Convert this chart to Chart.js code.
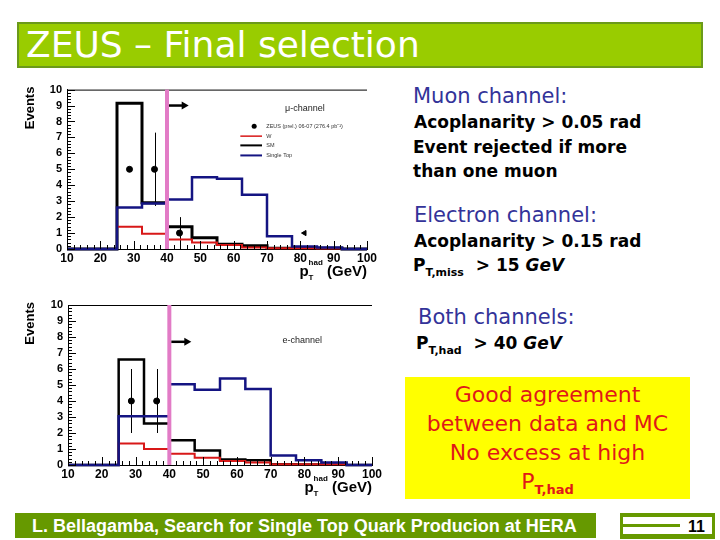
<!DOCTYPE html>
<html>
<head>
<meta charset="utf-8">
<script src="https://cdn.jsdelivr.net/npm/chart.js@4.4.1/dist/chart.umd.min.js"></script>
<style>
  html, body { margin: 0; padding: 0; background: #fff; }
  body { width: 720px; height: 540px; position: relative; overflow: hidden; font-family: 'Comic Sans MS', 'DejaVu Sans', sans-serif; }
  .abs { position: absolute; white-space: nowrap; line-height: 1; }
  canvas { position: absolute; }
  #titleBar { left: 17px; top: 22px; width: 682px; height: 42px; background: #99cc00; border: 2px solid #6b9a1a; }
  #titleText { left: 26px; top: 27px; font-size: 36px; color: #fff; }
  .head { color: #333399; font-size: 21px; }
  .body { color: #000; font-size: 17px; font-weight: bold; }
  .sub { font-size: 11px; position: relative; top: 5px; }
  #yellowBox { left: 405px; top: 377px; width: 285px; height: 122px; background: #ffff00; }
  .concl { color: #e01818; font-size: 22px; width: 285px; left: 405px; text-align: center; }
  #footer { left: 15px; top: 513px; width: 581px; height: 25px; background: #669900; }
  #footerText { left: 32px; top: 516px; font: bold 18px 'Liberation Sans', Arial, sans-serif; color: #fff; }
  #pageBox { left: 620px; top: 513px; width: 95px; height: 26px; background: #669900; }
  #pageWhite { left: 623px; top: 517px; width: 89px; height: 17px; background: #fff; }
  #pageLine { left: 623px; top: 524px; width: 57px; height: 3px; background: #669900; }
  #pageNum { left: 688px; top: 518px; font: bold 16px 'Liberation Sans', Arial, sans-serif; color: #000; }
</style>
</head>
<body>

<div id="titleBar" class="abs"></div>
<div id="titleText" class="abs">ZEUS – Final selection</div>

<canvas id="muChart" width="370" height="210" style="left:15px; top:78px;"></canvas>
<canvas id="eChart" width="370" height="215" style="left:15px; top:293px;"></canvas>

<div class="abs head" style="left:413px; top:86px;">Muon channel:</div>
<div class="abs body" style="left:414px; top:114px;">Acoplanarity &gt; 0.05 rad</div>
<div class="abs body" style="left:413px; top:139px;">Event rejected if more</div>
<div class="abs body" style="left:413px; top:163px;">than one muon</div>

<div class="abs head" style="left:414px; top:205px;">Electron channel:</div>
<div class="abs body" style="left:414px; top:233px;">Acoplanarity &gt; 0.15 rad</div>
<div class="abs body" style="left:413px; top:257px;">P<span class="sub">T,miss</span> &nbsp;&gt; 15 <i>GeV</i></div>

<div class="abs head" style="left:418px; top:307px;">Both channels:</div>
<div class="abs body" style="left:416px; top:335px;">P<span class="sub">T,had</span> &nbsp;&gt; 40 <i>GeV</i></div>

<div id="yellowBox" class="abs"></div>
<div class="abs concl" style="top:384px;">Good agreement</div>
<div class="abs concl" style="top:413px;">between data and MC</div>
<div class="abs concl" style="top:442px;">No excess at high</div>
<div class="abs concl" style="top:471px;">P<span class="sub" style="font-weight:bold; font-size:13px;">T,had</span></div>

<div id="footer" class="abs"></div>
<div id="footerText" class="abs">L. Bellagamba, Search for Single Top Quark Producion at HERA</div>
<div id="pageBox" class="abs"></div>
<div id="pageWhite" class="abs"></div>
<div id="pageLine" class="abs"></div>
<div id="pageNum" class="abs">11</div>

<script>
// bin edges of the pT(had) histograms (GeV)
const binEdges = [10, 17.5, 25, 32.5, 40, 47.5, 55, 62.5, 70, 77.5, 85, 92.5, 100];
const xTickValues = [10, 20, 30, 40, 50, 60, 70, 80, 90, 100];
const yTickValues = [0, 1, 2, 3, 4, 5, 6, 7, 8, 9, 10];

// muon channel
const muSM = [0, 0, 9.15, 2.9, 1.4, 0.7, 0.3, 0.2, 0.05, 0.05, 0.05, 0];
const muSingleTop = [0, 0, 2.6, 2.85, 3.1, 4.5, 4.4, 3.4, 0.8, 0.15, 0.1, 0];
const muW = [0, 0, 1.4, 0.95, 0.6, 0.4, 0.25, 0.1, 0.05, 0.05, 0.03, 0];
const muDataX = [28.75, 36.25, 43.75, 81.25];
const muDataY = [5, 5, 1, 1];
const muDataErr = [0, 2.3, 1, 0];

// electron channel
const eSM = [0, 0, 6.6, 2.6, 1.55, 0.9, 0.35, 0.3, 0.05, 0.03, 0.02, 0];
const eSingleTop = [0, 0, 3.05, 3.05, 5.05, 4.7, 5.4, 4.75, 0.6, 0.3, 0.15, 0];
const eW = [0, 0, 1.35, 1.0, 0.7, 0.45, 0.25, 0.15, 0.05, 0.05, 0.05, 0];
const eDataX = [28.75, 36.25];
const eDataY = [4, 4];
const eDataErr = [2, 2];

const legendLabels = ['ZEUS (prel.) 06-07 (276.4 pb\u207B\u00B9)', 'W', 'SM', 'Single Top'];
const cutValue = 40;

const colSM = '#000000';
const colTop = '#141482';
const colW = '#d81818';
const colCut = '#e27bc6';
const tickFont = '"Liberation Sans", Arial, sans-serif';

function histPoints(values) {
    const pts = values.map((v, i) => ({ x: binEdges[i], y: v }));
    pts.push({ x: binEdges[binEdges.length - 1], y: values[values.length - 1] });
    return pts;
}

function histDataset(values, color, width, order) {
    return {
        data: histPoints(values),
        borderColor: color,
        borderWidth: width,
        stepped: 'before',
        pointRadius: 0,
        fill: false,
        order: order,
        clip: 4
    };
}

function drawPtTitle(ctx, right, baseline) {
    const fBig = 'bold 15px ' + tickFont;
    const fSmall = 'bold 8px ' + tickFont;
    ctx.save();
    ctx.fillStyle = '#000';
    ctx.textAlign = 'left';
    ctx.textBaseline = 'alphabetic';
    ctx.font = fBig;
    const wp = ctx.measureText('p').width;
    const wg = ctx.measureText(' (GeV)').width;
    ctx.font = fSmall;
    const ws = ctx.measureText('had').width;
    let x = right - (wp + ws + wg);
    ctx.font = fBig;
    ctx.fillText('p', x, baseline);
    x += wp;
    ctx.font = fSmall;
    ctx.fillText('had', x, baseline - 11);
    ctx.fillText('T', x, baseline + 4);
    x += ws;
    ctx.font = fBig;
    ctx.fillText(' (GeV)', x, baseline);
    ctx.restore();
}

// ROOT-like frame: inner ticks, cut line, arrow, labels
const rootFrame = {
    id: 'rootFrame',
    beforeDatasetsDraw(chart, args, opts) {
        const { ctx, scales: { x, y } } = chart;
        // error bars
        ctx.save();
        ctx.strokeStyle = '#000';
        ctx.lineWidth = 1;
        opts.dataX.forEach((xv, i) => {
            const err = opts.dataErr[i];
            if (!err) return;
            const px = Math.round(x.getPixelForValue(xv)) + 0.5;
            ctx.beginPath();
            ctx.moveTo(px, y.getPixelForValue(opts.dataY[i] - err));
            ctx.lineTo(px, y.getPixelForValue(opts.dataY[i] + err));
            ctx.stroke();
        });
        ctx.restore();
    },
    afterDatasetsDraw(chart, args, opts) {
        const { ctx, chartArea: a, scales: { x, y } } = chart;
        ctx.save();
        ctx.strokeStyle = '#000';
        ctx.lineWidth = 1;

        // top frame line
        ctx.beginPath();
        ctx.moveTo(a.left, a.top + 0.5);
        ctx.lineTo(a.right, a.top + 0.5);
        ctx.stroke();

        // y ticks pointing inside
        ctx.beginPath();
        for (let v = 0; v <= 10.001; v += 0.2) {
            const py = Math.round(y.getPixelForValue(v)) + 0.5;
            const major = Math.abs(v - Math.round(v)) < 0.01;
            ctx.moveTo(a.left, py);
            ctx.lineTo(a.left + (major ? 8 : 4), py);
        }
        // x ticks pointing inside
        for (let v = 10; v <= 100.001; v += 2) {
            const px = Math.round(x.getPixelForValue(v)) + 0.5;
            const major = Math.abs(v % 10) < 0.01;
            ctx.moveTo(px, a.bottom);
            ctx.lineTo(px, a.bottom - (major ? 8 : 4));
        }
        ctx.stroke();

        // cut line
        const cx = x.getPixelForValue(cutValue);
        ctx.strokeStyle = colCut;
        ctx.lineWidth = 4;
        ctx.beginPath();
        ctx.moveTo(cx, y.getPixelForValue(0));
        ctx.lineTo(cx, y.getPixelForValue(10));
        ctx.stroke();

        // arrow
        const ay = y.getPixelForValue(opts.arrowY);
        const ax1 = x.getPixelForValue(cutValue + 0.6);
        const ax2 = x.getPixelForValue(cutValue + 6.5);
        ctx.strokeStyle = '#000';
        ctx.fillStyle = '#000';
        ctx.lineWidth = 2.5;
        ctx.beginPath();
        ctx.moveTo(ax1, ay);
        ctx.lineTo(ax2 - 4, ay);
        ctx.stroke();
        ctx.beginPath();
        ctx.moveTo(ax2, ay);
        ctx.lineTo(ax2 - 7, ay - 4);
        ctx.lineTo(ax2 - 7, ay + 4);
        ctx.closePath();
        ctx.fill();

        // channel label
        ctx.font = '9px ' + tickFont;
        ctx.fillStyle = '#222';
        ctx.textBaseline = 'middle';
        ctx.textAlign = 'left';
        ctx.fillText(opts.label, x.getPixelForValue(opts.labelX), y.getPixelForValue(opts.labelY));

        // legend
        if (opts.legend) {
            const rows = [7.7, 7.08, 6.5, 5.87];
            const colors = [null, colW, colSM, colTop];
            const lx1 = x.getPixelForValue(62);
            const lx2 = x.getPixelForValue(68.5);
            const tx = x.getPixelForValue(69.8);
            ctx.font = '5.5px ' + tickFont;
            rows.forEach((rv, i) => {
                const py = y.getPixelForValue(rv);
                if (colors[i]) {
                    ctx.strokeStyle = colors[i];
                    ctx.lineWidth = i === 1 ? 1.5 : 2;
                    ctx.beginPath();
                    ctx.moveTo(lx1, py);
                    ctx.lineTo(lx2, py);
                    ctx.stroke();
                } else {
                    ctx.fillStyle = '#000';
                    ctx.beginPath();
                    ctx.arc((lx1 + lx2) / 2 + 3, py, 2.5, 0, Math.PI * 2);
                    ctx.fill();
                }
                ctx.fillStyle = '#333';
                ctx.fillText(legendLabels[i], tx, py);
            });
        }

        // axis titles
        ctx.fillStyle = '#000';
        ctx.font = 'bold 13px ' + tickFont;
        ctx.translate(15, a.top - 3);
        ctx.rotate(-Math.PI / 2);
        ctx.textAlign = 'right';
        ctx.textBaseline = 'middle';
        ctx.fillText('Events', 0, 0);
        ctx.restore();

        drawPtTitle(ctx, a.right, a.bottom + 27);
    }
};

function makeHistChart(canvasId, sm, singleTop, w, dataX, dataY, dataErr, frame, layout) {
    const ctx = document.getElementById(canvasId).getContext('2d');
    const styles = dataX.map((v, i) => (frame.triangleIndex === i ? 'triangle' : 'circle'));
    const rotations = dataX.map((v, i) => (frame.triangleIndex === i ? -90 : 0));
    return new Chart(ctx, {
        type: 'line',
        data: {
            datasets: [
                {
                    data: dataX.map((xv, i) => ({ x: xv, y: dataY[i] })),
                    showLine: false,
                    pointRadius: 3,
                    pointStyle: styles,
                    pointRotation: rotations,
                    pointBackgroundColor: '#000',
                    pointBorderColor: '#000',
                    order: 0
                },
                histDataset(singleTop, colTop, 2.5, 1),
                histDataset(w, colW, 2, 2),
                histDataset(sm, colSM, frame.smWidth, 3)
            ]
        },
        options: {
            responsive: false,
            animation: false,
            layout: { padding: layout.padding },
            plugins: {
                legend: { display: false },
                tooltip: { enabled: false },
                rootFrame: Object.assign({ dataX: dataX, dataY: dataY, dataErr: dataErr }, frame)
            },
            scales: {
                x: {
                    type: 'linear',
                    min: 10,
                    max: 100,
                    afterBuildTicks: s => { s.ticks = xTickValues.map(v => ({ value: v })); },
                    afterFit: s => { s.height = layout.xHeight; },
                    grid: { display: false, drawTicks: false },
                    border: { display: true, color: '#000', width: 1 },
                    ticks: { color: '#000', padding: 2, autoSkip: false, maxRotation: 0, font: { family: tickFont, size: 12, weight: 'bold' } }
                },
                y: {
                    min: 0,
                    max: 10,
                    afterBuildTicks: s => { s.ticks = yTickValues.map(v => ({ value: v })); },
                    afterFit: s => { s.width = layout.yWidth; },
                    grid: { display: false, drawTicks: false },
                    border: { display: true, color: '#000', width: 1 },
                    ticks: { color: '#000', padding: 5, autoSkip: false, font: { family: tickFont, size: 11, weight: 'bold' } }
                }
            }
        },
        plugins: [rootFrame]
    });
}

makeHistChart('muChart', muSM, muSingleTop, muW, muDataX, muDataY, muDataErr,
    { label: '\u03BC-channel', labelX: 75.4, labelY: 8.8, arrowY: 9, legend: true, triangleIndex: 3, smWidth: 3 },
    { padding: { top: 11, right: 18, left: 0, bottom: 0 }, xHeight: 39, yWidth: 52 });

makeHistChart('eChart', eSM, eSingleTop, eW, eDataX, eDataY, eDataErr,
    { label: 'e-channel', labelX: 73.5, labelY: 7.8, arrowY: 7.7, legend: false, triangleIndex: -1, smWidth: 2.5 },
    { padding: { top: 12, right: 13, left: 0, bottom: 0 }, xHeight: 43, yWidth: 53 });
</script>
</body>
</html>
